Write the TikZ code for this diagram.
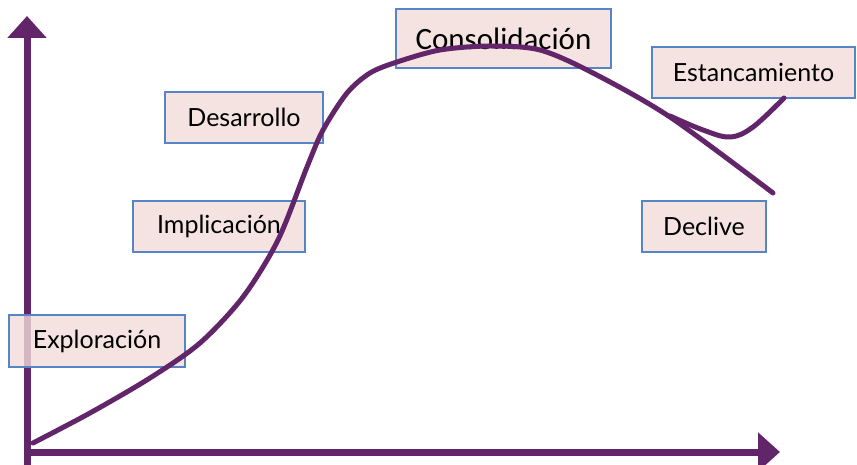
\documentclass[tikz,border=0pt]{standalone}
\usepackage{fontspec}
\setmainfont{Lato}
\newfontfamily\carlito{Carlito}
\usetikzlibrary{arrows.meta}
\definecolor{curvepurple}{HTML}{622569}
\definecolor{boxfill}{HTML}{F2DCDB}
\definecolor{boxline}{HTML}{5585C4}
\tikzset{
  phasebox/.style={draw=boxline, line width=1.4pt, fill=boxfill, fill opacity=0.8, text opacity=1,
    inner sep=0pt, font=\fontsize{25}{30}\selectfont},
  axisline/.style={draw=curvepurple, line width=7pt, -{Triangle[length=22pt,width=38pt]}},
  lifecurve/.style={draw=curvepurple, line width=5pt, line cap=round, line join=round}
}
\begin{document}
\begin{tikzpicture}[x=1pt,y=-1pt]
\useasboundingbox (0,0) rectangle (857,465);
% axes
\coordinate (ybot) at (27,468);
\coordinate (ytop) at (27,16);
\coordinate (xleft) at (24,452);
\coordinate (xright) at (780,452);
\draw[axisline] (ybot) -- (ytop);
\draw[axisline] (xleft) -- (xright);
% boxes
\node[phasebox, minimum width=176pt, minimum height=52pt] (explo) at (97,341) {Exploración};
\node[phasebox, minimum width=172pt, minimum height=51pt] (impli) at (219,226.5) {Implicación};
\node[phasebox, minimum width=158pt, minimum height=51pt] (desa) at (244,117.5) {Desarrollo};
\node[phasebox, minimum width=215pt, minimum height=59pt, font=\carlito\fontsize{31}{34}\selectfont] (conso) at (503.5,38.5) {Consolidación};
\node[phasebox, minimum width=203pt, minimum height=51pt] (estan) at (753.5,72.5) {Estancamiento};
\node[phasebox, minimum width=124pt, minimum height=51pt] (decli) at (704,226.5) {Declive};
% curves
\draw[lifecurve] plot[smooth, tension=0.5] coordinates {
  (33,443) (90,413) (150,378) (200,343) (243,297) (278,240)
  (307,167) (323,130) (347,93) (370,73) (397,62) (440,50) (490,46)
  (540,50) (593,73) (670,117) (773,193)};
\draw[lifecurve] plot[smooth, tension=0.6] coordinates {
  (670,116) (703,130) (730,137) (753,127) (784,98)};
\end{tikzpicture}
\end{document}
